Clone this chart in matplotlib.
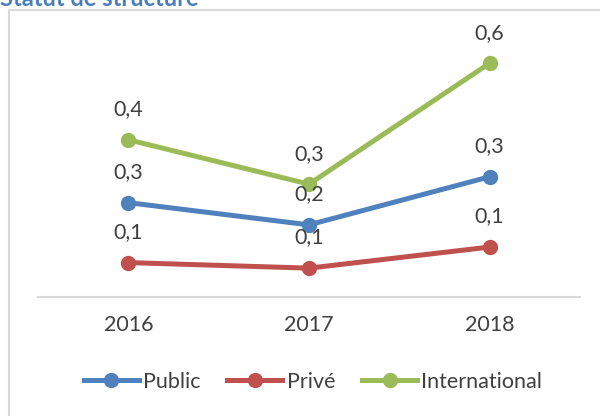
import matplotlib.pyplot as plt
from matplotlib.patches import Rectangle
from matplotlib.lines import Line2D

# values (labels show them rounded to 1 decimal)
years = ['2016', '2017', '2018']
public = [0.255, 0.195, 0.325]
prive = [0.093, 0.078, 0.135]
international = [0.425, 0.305, 0.632]
series_names = ['Public', 'Privé', 'International']

colors = ['#4F81BD', '#C0504D', '#9BBB59']
txt = '#404040'
plt.rcParams['font.family'] = ['Lato', 'DejaVu Sans']
fs = 15.5

fig = plt.figure(figsize=(6, 4.16), dpi=100)
ax = fig.add_axes([38/600, 1 - 297/416, (580 - 38)/600, (297 - 38)/416])

# outer chart frame, cut off at right and bottom like the screenshot
fig.patches.append(Rectangle((9/600, -0.1), 1.2, 1 - 10/416 + 0.1,
                             transform=fig.transFigure, fill=False,
                             edgecolor='#D9D9D9', linewidth=1.5))
fig.text(0.0, 1 + 1/416, 'Statut de structure', color='#4A7EBB',
         fontsize=17, fontweight='bold', va='center', ha='left')

xs = range(len(years))
for vals, c, name in zip([public, prive, international], colors, series_names):
    ax.plot(xs, vals, color=c, lw=3.6, marker='o', ms=10, label=name,
            solid_capstyle='round')
    for x, v in zip(xs, vals):
        ax.annotate(('%.1f' % v).replace('.', ','), (x, v), xytext=(0, 22),
                    textcoords='offset points', ha='center', va='center',
                    fontsize=fs, color=txt)

ax.set_xlim(-0.5, 2.5)
ax.set_ylim(0, 0.7)
ax.set_xticks(list(xs))
ax.set_xticklabels(years, fontsize=fs, color=txt)
ax.set_yticks([])
for s in ['top', 'right', 'left']:
    ax.spines[s].set_visible(False)
ax.spines['bottom'].set_color('#D9D9D9')
ax.spines['bottom'].set_linewidth(1.5)
ax.tick_params(axis='x', length=0, pad=13)

handles = [Line2D([], [], color=c, lw=3.6, marker='o', ms=10) for c in colors]
leg = fig.legend(handles, series_names, loc='center', ncol=3,
                 bbox_to_anchor=(313/600, 1 - 382/416), frameon=False,
                 fontsize=fs, handlelength=2.55, handletextpad=0.2,
                 columnspacing=1.25)
for t in leg.get_texts():
    t.set_color(txt)

fig.savefig('out.png', dpi=100)
